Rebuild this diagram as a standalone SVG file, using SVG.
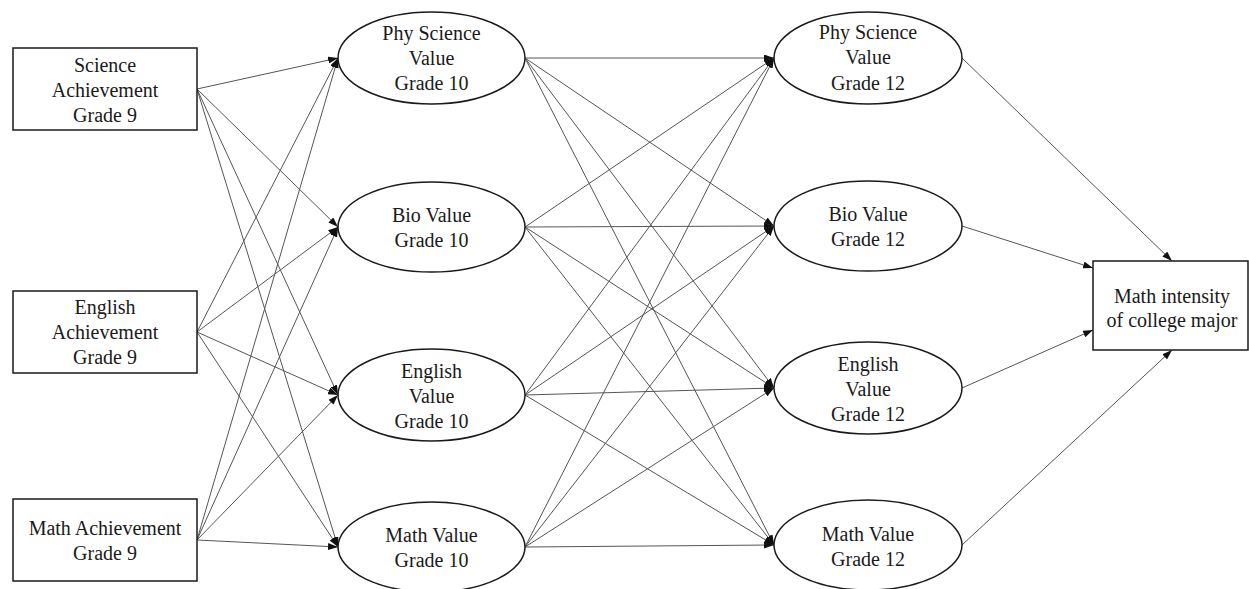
<svg xmlns="http://www.w3.org/2000/svg" width="1249" height="589" viewBox="0 0 1249 589">
<style>
.node{fill:#fff;stroke:#1a1a1a;stroke-width:1.5}
.lbl{font-family:"Liberation Serif","Times New Roman",serif;font-size:20px;fill:#1a1a1a;text-anchor:middle}
.edge{stroke:#555;stroke-width:1;fill:none;marker-end:url(#arr)}
</style>
<defs>
<marker id="arr" viewBox="0 0 10 7" refX="10" refY="3.5" markerWidth="10" markerHeight="7" markerUnits="userSpaceOnUse" orient="auto">
<path d="M0,0 L10,3.5 L0,7 z" fill="#111"/>
</marker>
</defs>
<rect width="1249" height="589" fill="#fff"/>
<g id="connectors">
<line class="edge" x1="197" y1="89" x2="338" y2="58"/>
<line class="edge" x1="197" y1="89" x2="338" y2="227"/>
<line class="edge" x1="197" y1="89" x2="338" y2="395"/>
<line class="edge" x1="197" y1="89" x2="338" y2="547"/>
<line class="edge" x1="197" y1="332" x2="338" y2="58"/>
<line class="edge" x1="197" y1="332" x2="338" y2="227"/>
<line class="edge" x1="197" y1="332" x2="338" y2="395"/>
<line class="edge" x1="197" y1="332" x2="338" y2="547"/>
<line class="edge" x1="197" y1="540" x2="338" y2="58"/>
<line class="edge" x1="197" y1="540" x2="338" y2="227"/>
<line class="edge" x1="197" y1="540" x2="338" y2="395"/>
<line class="edge" x1="197" y1="540" x2="338" y2="547"/>
<line class="edge" x1="525" y1="58" x2="774" y2="58"/>
<line class="edge" x1="525" y1="58" x2="774" y2="226"/>
<line class="edge" x1="525" y1="58" x2="774" y2="388"/>
<line class="edge" x1="525" y1="58" x2="774" y2="545"/>
<line class="edge" x1="525" y1="227" x2="774" y2="58"/>
<line class="edge" x1="525" y1="227" x2="774" y2="226"/>
<line class="edge" x1="525" y1="227" x2="774" y2="388"/>
<line class="edge" x1="525" y1="227" x2="774" y2="545"/>
<line class="edge" x1="525" y1="395" x2="774" y2="58"/>
<line class="edge" x1="525" y1="395" x2="774" y2="226"/>
<line class="edge" x1="525" y1="395" x2="774" y2="388"/>
<line class="edge" x1="525" y1="395" x2="774" y2="545"/>
<line class="edge" x1="525" y1="547" x2="774" y2="58"/>
<line class="edge" x1="525" y1="547" x2="774" y2="226"/>
<line class="edge" x1="525" y1="547" x2="774" y2="388"/>
<line class="edge" x1="525" y1="547" x2="774" y2="545"/>
<line class="edge" x1="962" y1="58" x2="1172" y2="261"/>
<line class="edge" x1="962" y1="226" x2="1093" y2="268"/>
<line class="edge" x1="962" y1="388" x2="1093" y2="330"/>
<line class="edge" x1="962" y1="545" x2="1172" y2="350"/>
</g>
<g id="science_ach">
<rect class="node" x="13" y="48" width="184" height="82"/>
<text class="lbl" x="105" y="72">Science</text>
<text class="lbl" x="105" y="97">Achievement</text>
<text class="lbl" x="105" y="122">Grade 9</text>
</g>
<g id="english_ach">
<rect class="node" x="13" y="291" width="184" height="82"/>
<text class="lbl" x="105" y="314">English</text>
<text class="lbl" x="105" y="339">Achievement</text>
<text class="lbl" x="105" y="364">Grade 9</text>
</g>
<g id="math_ach">
<rect class="node" x="13" y="499" width="184" height="82"/>
<text class="lbl" x="105" y="535">Math Achievement</text>
<text class="lbl" x="105" y="560">Grade 9</text>
</g>
<g id="phy10">
<ellipse class="node" cx="431.5" cy="58" rx="93.5" ry="46"/>
<text class="lbl" x="431.5" y="40">Phy Science</text>
<text class="lbl" x="431.5" y="65">Value</text>
<text class="lbl" x="431.5" y="90">Grade 10</text>
</g>
<g id="bio10">
<ellipse class="node" cx="431.5" cy="227" rx="93.5" ry="45"/>
<text class="lbl" x="431.5" y="222">Bio Value</text>
<text class="lbl" x="431.5" y="247">Grade 10</text>
</g>
<g id="eng10">
<ellipse class="node" cx="431.5" cy="395" rx="93.5" ry="46"/>
<text class="lbl" x="431.5" y="378">English</text>
<text class="lbl" x="431.5" y="403">Value</text>
<text class="lbl" x="431.5" y="428">Grade 10</text>
</g>
<g id="math10">
<ellipse class="node" cx="431.5" cy="547" rx="93.5" ry="45"/>
<text class="lbl" x="431.5" y="542">Math Value</text>
<text class="lbl" x="431.5" y="567">Grade 10</text>
</g>
<g id="phy12">
<ellipse class="node" cx="868" cy="58" rx="94" ry="46"/>
<text class="lbl" x="868" y="39">Phy Science</text>
<text class="lbl" x="868" y="64">Value</text>
<text class="lbl" x="868" y="90">Grade 12</text>
</g>
<g id="bio12">
<ellipse class="node" cx="868" cy="226" rx="94" ry="45"/>
<text class="lbl" x="868" y="221">Bio Value</text>
<text class="lbl" x="868" y="246">Grade 12</text>
</g>
<g id="eng12">
<ellipse class="node" cx="868" cy="388" rx="94" ry="46"/>
<text class="lbl" x="868" y="371">English</text>
<text class="lbl" x="868" y="396">Value</text>
<text class="lbl" x="868" y="421">Grade 12</text>
</g>
<g id="math12">
<ellipse class="node" cx="868" cy="545" rx="94" ry="45"/>
<text class="lbl" x="868" y="541">Math Value</text>
<text class="lbl" x="868" y="566">Grade 12</text>
</g>
<g id="outcome">
<rect class="node" x="1093" y="261" width="155" height="89"/>
<text class="lbl" x="1172" y="303">Math intensity</text>
<text class="lbl" x="1172" y="327">of college major</text>
</g>
</svg>
